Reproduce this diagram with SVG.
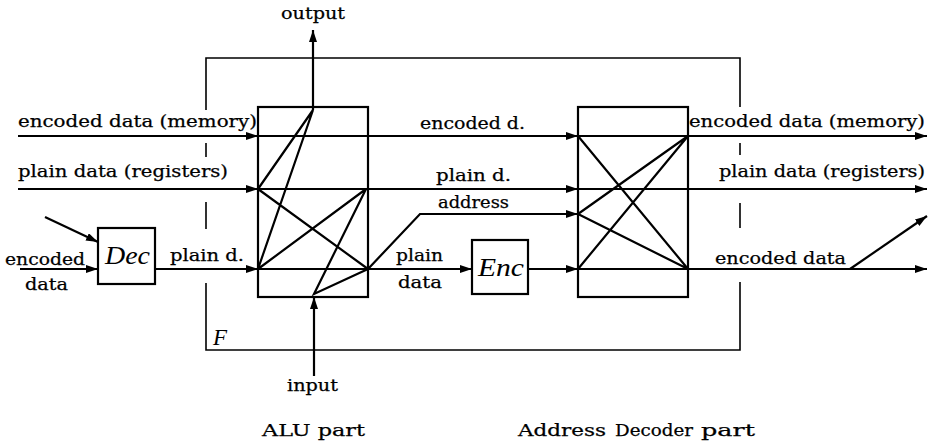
<svg xmlns="http://www.w3.org/2000/svg" width="932" height="445" viewBox="0 0 932 445">
<style>
.t{font-family:"DejaVu Serif","Liberation Serif",serif;font-size:17px;fill:#000;stroke:#000;stroke-width:0.25}
.i{font-family:"Liberation Serif","DejaVu Serif",serif;font-style:italic;fill:#000}
.ln{fill:none;stroke:#000;stroke-width:2.2}
.box{fill:#fff;stroke:#000;stroke-width:2.2}
.fr{fill:none;stroke:#000;stroke-width:1.6}
</style>
<defs>
<marker id="ah" markerUnits="userSpaceOnUse" markerWidth="13" markerHeight="9" refX="12" refY="4" orient="auto">
<path d="M0,0 L12,4 L0,8 z" fill="#000"/>
</marker>
</defs>
<rect width="932" height="445" fill="#fff"/>
<g id="frameF">
<path class="fr" d="M206,110 V58 H740 V107 M206,143 V157 M740,143 V155 M206,202 V229 M740,203 V228 M206,283 V350 H740 V282"/>
<text class="i" x="213" y="345" font-size="23">F</text>
</g>
<g id="alu">
<rect class="box" x="258" y="107" width="110" height="190"/>
</g>
<g id="addrdec">
<rect class="box" x="578" y="107" width="110" height="190"/>
</g>
<g id="dec">
<rect class="box" x="98" y="228" width="57" height="56"/>
<text class="i" x="105" y="264" font-size="25" textLength="45" lengthAdjust="spacingAndGlyphs">Dec</text>
</g>
<g id="enc">
<rect class="box" x="472" y="240" width="56" height="54"/>
<text class="i" x="478" y="276" font-size="25" textLength="46" lengthAdjust="spacingAndGlyphs">Enc</text>
</g>
<g id="connectors">
<path class="ln" d="M18,136 H258" marker-end="url(#ah)"/>
<path class="ln" d="M18,189 H258" marker-end="url(#ah)"/>
<path class="ln" d="M20,269 H98" marker-end="url(#ah)"/>
<path class="ln" d="M45,217 L98,242" marker-end="url(#ah)"/>
<path class="ln" d="M155,269 H258" marker-end="url(#ah)"/>
<path class="ln" d="M258,136 H578" marker-end="url(#ah)"/>
<path class="ln" d="M258,189 H578" marker-end="url(#ah)"/>
<path class="ln" d="M258,269 H472" marker-end="url(#ah)"/>
<path class="ln" d="M528,269 H578" marker-end="url(#ah)"/>
<path class="ln" d="M368,269 L420,214 H578" marker-end="url(#ah)"/>
<path class="ln" d="M313,110 L258,189 M313,110 L258,269 M258,189 L368,269 M258,269 L366,189 M366,189 L314,294 L368,269"/>
<path class="ln" d="M313,110 V30" marker-end="url(#ah)"/>
<path class="ln" d="M314,376 V297" marker-end="url(#ah)"/>
<path class="ln" d="M578,136 H927" marker-end="url(#ah)"/>
<path class="ln" d="M578,189 H927" marker-end="url(#ah)"/>
<path class="ln" d="M578,269 H927" marker-end="url(#ah)"/>
<path class="ln" d="M578,136 L688,269 M578,214 L688,136 M578,269 L688,136 M578,214 L688,269"/>
<path class="ln" d="M850,269 L927,216" marker-end="url(#ah)"/>
</g>
<g id="labels">
<text class="t" x="18" y="127" textLength="239" lengthAdjust="spacingAndGlyphs">encoded data (memory)</text>
<text class="t" x="18" y="177" textLength="210" lengthAdjust="spacingAndGlyphs">plain data (registers)</text>
<text class="t" x="5" y="265" textLength="80" lengthAdjust="spacingAndGlyphs">encoded</text>
<text class="t" x="25" y="290" textLength="43" lengthAdjust="spacingAndGlyphs">data</text>
<text class="t" x="170" y="261" textLength="74" lengthAdjust="spacingAndGlyphs">plain d.</text>
<text class="t" x="420" y="129" textLength="105" lengthAdjust="spacingAndGlyphs">encoded d.</text>
<text class="t" x="436" y="181" textLength="75" lengthAdjust="spacingAndGlyphs">plain d.</text>
<text class="t" x="438" y="208" textLength="71" lengthAdjust="spacingAndGlyphs">address</text>
<text class="t" x="396" y="261" textLength="47" lengthAdjust="spacingAndGlyphs">plain</text>
<text class="t" x="398" y="288" textLength="44" lengthAdjust="spacingAndGlyphs">data</text>
<text class="t" x="689" y="127" textLength="236" lengthAdjust="spacingAndGlyphs">encoded data (memory)</text>
<text class="t" x="719" y="177" textLength="206" lengthAdjust="spacingAndGlyphs">plain data (registers)</text>
<text class="t" x="715" y="264" textLength="131" lengthAdjust="spacingAndGlyphs">encoded data</text>
<text class="t" x="281" y="19" textLength="64" lengthAdjust="spacingAndGlyphs">output</text>
<text class="t" x="287" y="391" textLength="51" lengthAdjust="spacingAndGlyphs">input</text>
<text class="t" x="262" y="436" textLength="103" lengthAdjust="spacingAndGlyphs">ALU part</text>
<text class="t" x="518" y="436" textLength="88" lengthAdjust="spacingAndGlyphs">Address</text>
<text class="t" x="615" y="436" textLength="78" lengthAdjust="spacingAndGlyphs">Decoder</text>
<text class="t" x="701" y="436" textLength="54" lengthAdjust="spacingAndGlyphs">part</text>
</g>
</svg>
